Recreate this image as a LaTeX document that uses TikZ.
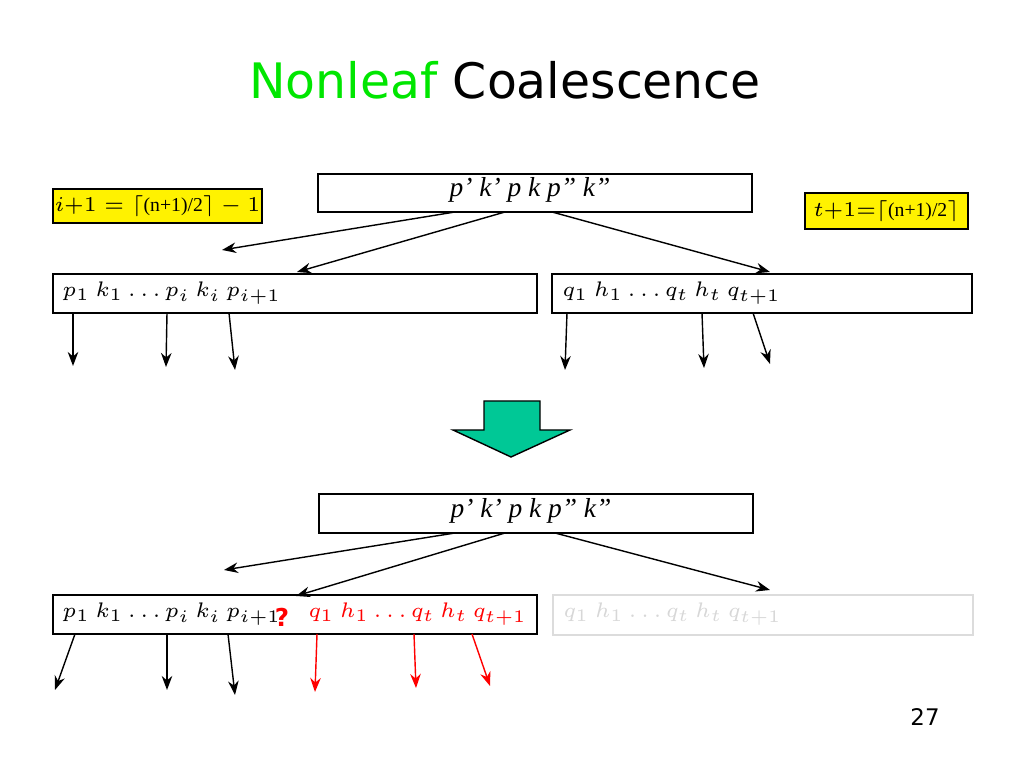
\documentclass[tikz,border=0pt]{standalone}
\usepackage{fontspec}
\setmainfont{Liberation Serif}
\newfontfamily\vsans{DejaVu Sans}
\usetikzlibrary{arrows.meta}
\begin{document}
\begin{tikzpicture}[x=0.01cm,y=-0.01cm,
 bx/.style={draw,thin,minimum height=0.38cm,inner sep=0pt},
 ar/.style={-{Stealth[length=4pt,width=3pt]},thin},
 rar/.style={ar,red},
 lbl/.style={font=\fontsize{6.4}{8}\selectfont,anchor=west,inner sep=0pt},
 yb/.style={draw,thin,fill=yellow,inner sep=0pt,font=\fontsize{5.6}{7}\selectfont}]
\useasboundingbox (0,0) rectangle (1024,768);
\node[font=\vsans\fontsize{13.9}{16}\selectfont] (title) at (505,80) {\textcolor[RGB]{0,230,0}{Nonleaf} Coalescence};
% top
\node[bx,minimum width=4.34cm] (T) at (535,193) {};
\node[font=\fontsize{7.8}{9}\selectfont\itshape] (Tt) at (530,190) {p’ k’ p k p” k”};
\node[yb,minimum width=2.09cm,minimum height=0.34cm] (Y1) at (157.5,206) {$i{+}1 = \lceil$(n+1)/2$\rceil - 1$};
\node[yb,minimum width=1.63cm,minimum height=0.36cm] (Y2) at (886.5,211) {$t{+}1{=}\lceil$(n+1)/2$\rceil$};
\node[bx,minimum width=4.84cm,minimum height=0.39cm] (L) at (295,293.5) {};
\node[lbl] (Lt) at (62,293) {$p_1\ k_1 \ldots p_i\ k_i\ p_{i+1}$};
\node[bx,minimum width=4.20cm,minimum height=0.39cm] (R) at (762,293.5) {};
\node[lbl] (Rt) at (562,293) {$q_1\ h_1 \ldots q_t\ h_t\ q_{t+1}$};
\coordinate (a1) at (222,250); \coordinate (a2) at (297,272); \coordinate (a3) at (770,272);
\draw[ar] (455,212) -- (a1); \draw[ar] (505,212) -- (a2); \draw[ar] (552,212) -- (a3);
\foreach \x/\y/\u/\v in {73/313/73/366,167/313/166/367,229/313/235/370,567/313/565/370,702/313/704/368,753/313/770/364}
  \draw[ar] (\x,\y) -- (\u,\v);
% big arrow
\draw[fill={rgb,255:red,0;green,200;blue,150}] (484,401) -- (540,401) -- (540,430) -- (570,430) -- (511,457) -- (453,430) -- (484,430) -- cycle;
% bottom
\node[bx,minimum width=4.34cm,minimum height=0.39cm] (B) at (536,513.5) {};
\node[font=\fontsize{7.8}{9}\selectfont\itshape] (Bt) at (531,511) {p’ k’ p k p” k”};
\node[bx,minimum width=4.84cm,minimum height=0.39cm] (BL) at (295,614.5) {};
\node[lbl] (BLt) at (62,614) {$p_1\ k_1 \ldots p_i\ k_i\ p_{i+1}$};
\node[font=\vsans\bfseries\fontsize{7}{8}\selectfont,text=red,inner sep=0pt] (qm) at (282,617) {?};
\node[lbl,text=red] (BLr) at (308,614) {$q_1\ h_1 \ldots q_t\ h_t\ q_{t+1}$};
\node[bx,draw={rgb,255:red,220;green,220;blue,220},minimum width=4.20cm,minimum height=0.40cm] (BR) at (763,615) {};
\node[lbl,text={rgb,255:red,215;green,215;blue,215}] (BRt) at (563,614) {$q_1\ h_1 \ldots q_t\ h_t\ q_{t+1}$};
\coordinate (b1) at (224,570); \coordinate (b2) at (296,596); \coordinate (b3) at (770,590);
\draw[ar] (455,533) -- (b1); \draw[ar] (505,533) -- (b2); \draw[ar] (555,533) -- (b3);
\foreach \x/\y/\u/\v in {75/634/55/690,167/634/167/690,228/634/235/695}
  \draw[ar] (\x,\y) -- (\u,\v);
\foreach \x/\y/\u/\v in {317/634/315/692,414/634/416/688,472/634/490/686}
  \draw[rar] (\x,\y) -- (\u,\v);
\node[font=\vsans\fontsize{6.5}{8}\selectfont] (pg) at (925,717) {27};
\end{tikzpicture}
\end{document}
